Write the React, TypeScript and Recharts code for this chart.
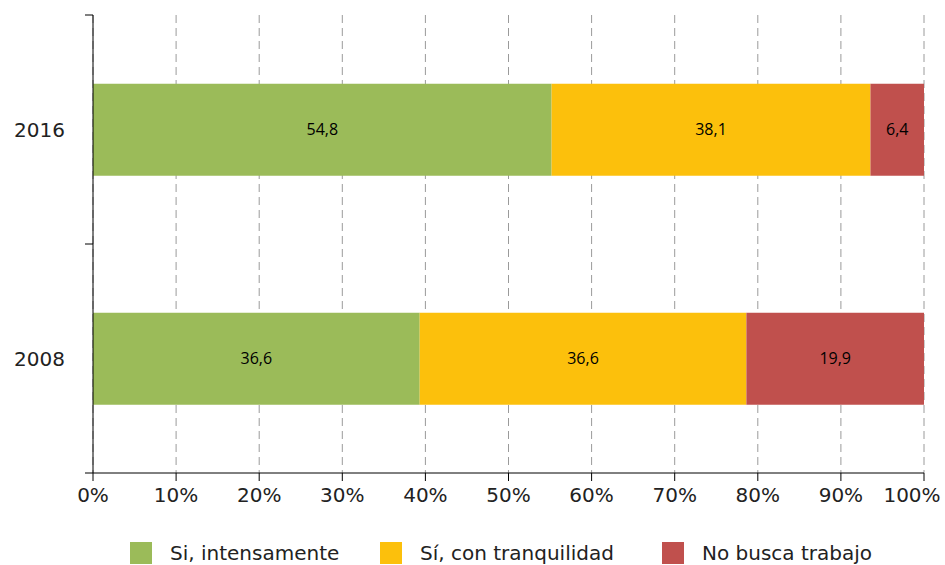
import React from "react";
import * as R from "recharts";
import {
  BarChart,
  Bar,
  XAxis,
  YAxis,
  CartesianGrid,
  Legend,
  LabelList,
} from "recharts";

const years = ["2016", "2008"];
const intensamente = [54.8, 36.6];
const tranquilidad = [38.1, 36.6];
const noBusca = [6.4, 19.9];
const xTicks = [0, 0.1, 0.2, 0.3, 0.4, 0.5, 0.6, 0.7, 0.8, 0.9, 1];

const SERIES = [
  { key: "intensamente", name: "Si, intensamente", color: "#9BBB59" },
  { key: "tranquilidad", name: "Sí, con tranquilidad", color: "#FCC00C" },
  { key: "noBusca", name: "No busca trabajo", color: "#C0504D" },
];

const data = years.map((year, i) => ({
  year,
  intensamente: intensamente[i],
  tranquilidad: tranquilidad[i],
  noBusca: noBusca[i],
}));

const AXIS_FONT = "'DejaVu Sans', sans-serif";
const LABEL_FONT = "'Open Sans', sans-serif";

const fmt = (v: any) => String(v).replace(".", ",");

const usePlotAreaSafe: () => any = (R as any).usePlotArea || (() => undefined);

// tick marks on the category boundaries (top, between years, bottom)
const FrameTicks = () => {
  const area = usePlotAreaSafe();
  if (!area) return null;
  const n = years.length;
  const ys = Array.from({ length: n + 1 }, (_, i) => area.y + (area.height * i) / n);
  return (
    <g>
      {ys.map((y, i) => (
        <line key={i} x1={area.x - 8} x2={area.x} y1={y} y2={y} stroke="#000" />
      ))}
    </g>
  );
};

// last label would be cut at the right edge, nudge it in
const XTick = (props: any) => {
  const { x, y, payload } = props;
  const shift = payload.value === 1 ? -12 : 0;
  return (
    <text
      x={x + shift}
      y={y}
      dy="0.71em"
      textAnchor="middle"
      fill="#222"
      fontSize={20}
      fontFamily={AXIS_FONT}
    >
      {`${Math.round(payload.value * 100)}%`}
    </text>
  );
};

const renderLegend = () => {
  const lefts = [130, 380, 662];
  return (
    <div style={{ position: "relative", height: 30, width: 945 }}>
      {SERIES.map((s, i) => (
        <div
          key={s.key}
          style={{
            position: "absolute",
            left: lefts[i],
            top: 0,
            height: 30,
            display: "flex",
            alignItems: "center",
            fontFamily: AXIS_FONT,
            fontSize: 20,
            color: "#222",
            whiteSpace: "nowrap",
          }}
        >
          <span
            style={{
              display: "inline-block",
              width: 22,
              height: 22,
              background: s.color,
              marginRight: 18,
            }}
          />
          {s.name}
        </div>
      ))}
    </div>
  );
};

export default function App() {
  return (
    <div style={{ position: "absolute", left: 0, top: 0 }}>
      <BarChart
        width={945}
        height={565}
        data={data}
        layout="vertical"
        stackOffset="expand"
        barCategoryGap="30%"
        margin={{ top: 15, right: 21, left: 0, bottom: 22 }}
      >
        <CartesianGrid
          horizontal={false}
          stroke="#9a9a9a"
          strokeDasharray="8 5"
        />
        <XAxis
          type="number"
          domain={[0, 1]}
          ticks={xTicks}
          stroke="#000"
          tickSize={8}
          tickMargin={7}
          height={40}
          tick={<XTick />}
        />
        <YAxis
          type="category"
          dataKey="year"
          width={93}
          stroke="#000"
          tickLine={false}
          tickMargin={22}
          tick={{ fill: "#222", fontSize: 20, fontFamily: AXIS_FONT }}
        />
        <Legend
          verticalAlign="bottom"
          height={30}
          content={renderLegend}
          wrapperStyle={{ left: 0, width: 945, top: 538, bottom: "auto" }}
        />
        {SERIES.map((s) => (
          <Bar
            key={s.key}
            dataKey={s.key}
            name={s.name}
            stackId="a"
            fill={s.color}
            isAnimationActive={false}
          >
            <LabelList
              dataKey={s.key}
              position="center"
              formatter={fmt}
              fill="#000"
              fontSize={16}
              fontFamily={LABEL_FONT}
            />
          </Bar>
        ))}
        <FrameTicks />
      </BarChart>
    </div>
  );
}
